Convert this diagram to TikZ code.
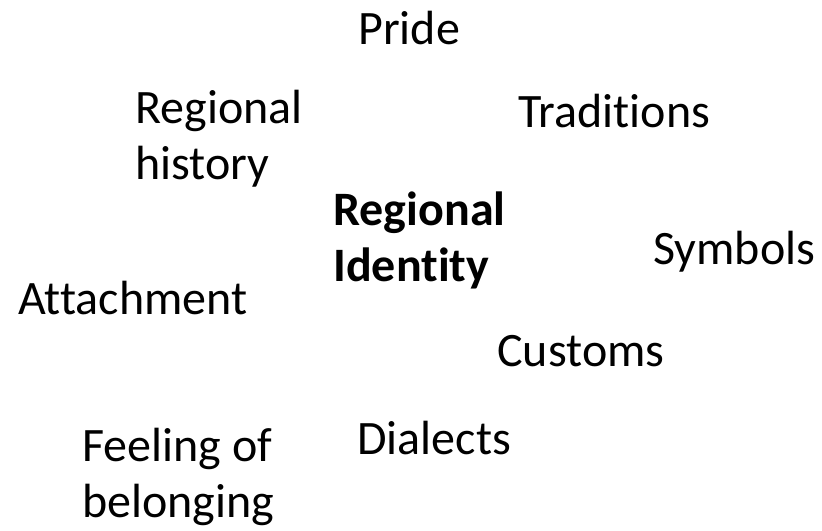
\documentclass[tikz,border=0pt]{standalone}
\usepackage{fontspec}
\setmainfont{Carlito}[Ligatures=NoCommon]
\usepackage{tikz}
\usetikzlibrary{positioning}
\tikzset{
  word/.style={
    anchor=base west,
    inner sep=0pt,
    align=left,
    font=\fontsize{24}{28}\selectfont
  },
  core/.style={
    word,
    font=\fontsize{24}{28}\selectfont\bfseries
  }
}

\begin{document}
\begin{tikzpicture}[x=0.5pt, y=-0.5pt]

\useasboundingbox (0,0) rectangle (822,530);

% centre term
\node[core] (identity) at (333,281) {Regional\\Identity};

% surrounding terms
\node[word] (pride) at (358,44) {Pride};
\node[word] (reghist) at (135,179) {Regional\\history};
\node[word] (trad) at (518,127) {Traditions};
\node[word] (symbols) at (653,264) {Symbols};
\node[word] (attach) at (18,314) {Attachment};
\node[word] (customs) at (497,366) {Customs};
\node[word] (dialects) at (357,454) {Dialects};
\node[word] (belong) at (82,517) {Feeling of\\belonging};

\end{tikzpicture}
\end{document}
